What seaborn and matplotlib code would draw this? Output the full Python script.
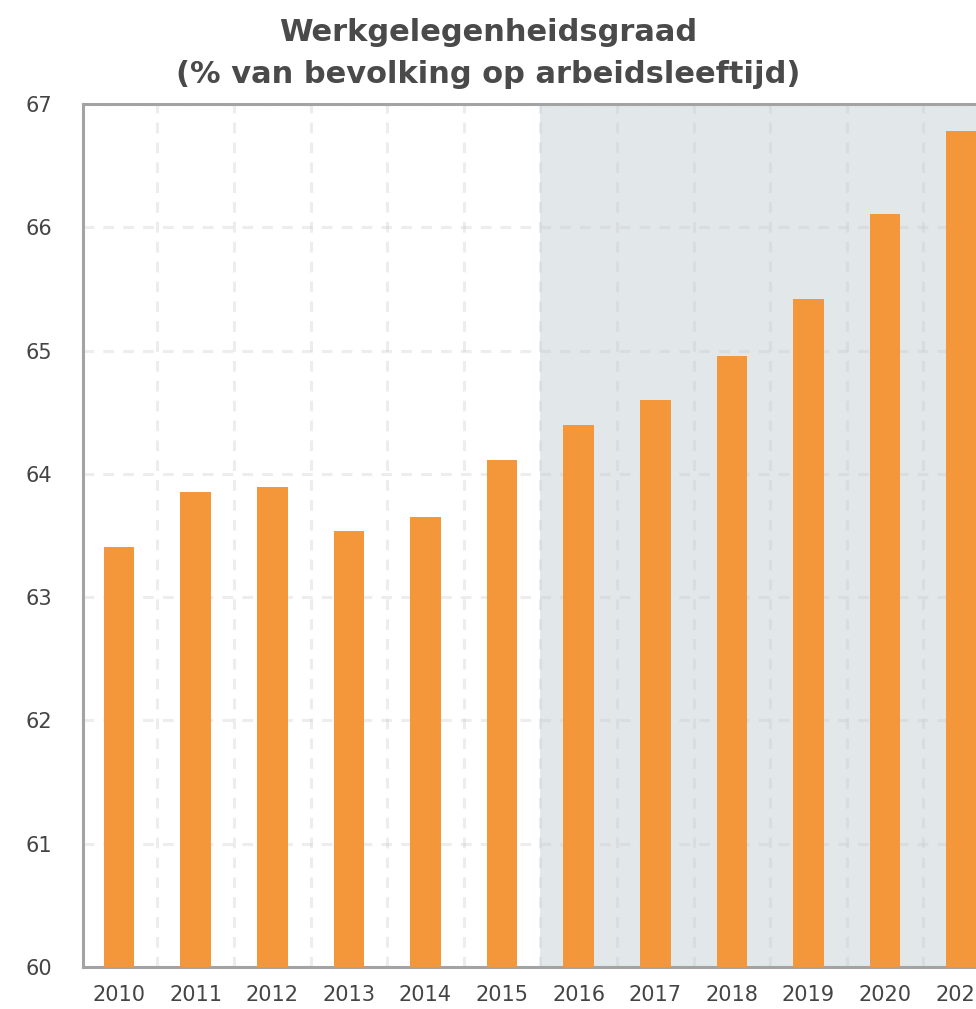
import numpy as np
import pandas as pd
import matplotlib
matplotlib.use("Agg")
import matplotlib.pyplot as plt
import seaborn as sns

years = ["2010", "2011", "2012", "2013", "2014", "2015",
         "2016", "2017", "2018", "2019", "2020", "2021"]
rate = [63.41, 63.85, 63.89, 63.54, 63.65, 64.11,
        64.40, 64.60, 64.96, 65.42, 66.11, 66.78]
forecast_from = 5.5  # shaded part starts between 2015 and 2016

df = pd.DataFrame({"year": years, "rate": rate})

sns.set_style("white")
plt.rcParams["font.family"] = ["DejaVu Sans"]

fig = plt.figure(figsize=(9.76, 10.09), dpi=100)
# axes is wider than the figure on purpose: the right side is cut off
ax = fig.add_axes([83 / 976, 42 / 1009, 917 / 976, 863 / 1009])

ax.axvspan(forecast_from, 12, color="#E2E7EA", zorder=0, lw=0)
sns.barplot(data=df, x="year", y="rate", color="#F4963A", saturation=1,
            width=0.4, ax=ax, zorder=3, linewidth=0)

ax.set_ylim(60, 67)
ax.set_xlim(-0.47, 11.5)
ax.set_yticks(range(60, 68))
ax.set_xticks(np.arange(len(years)))
ax.set_xticklabels(years)
ax.set_xticks(np.arange(len(years)) + 0.5, minor=True)

# grid sits above the shaded span (zorder 0) but below the bars
grid_kw = dict(color="#CCCCCC", alpha=0.35, ls=(0, (3.5, 3)), lw=2.2)
ax.grid(False)
ax.grid(True, which="minor", axis="x", **grid_kw)
ax.grid(True, which="major", axis="y", **grid_kw)
ax.set_axisbelow(True)

for s in ["left", "bottom", "top"]:
    ax.spines[s].set_color("#A3A3A3")
    ax.spines[s].set_linewidth(2.2)
ax.spines["right"].set_visible(False)

ax.tick_params(axis="x", which="major", length=0, pad=13, labelsize=15, labelcolor="#444444")
ax.tick_params(axis="x", which="minor", length=5, width=2, color="#A3A3A3")
ax.tick_params(axis="y", length=5, width=2, color="#A3A3A3", pad=17, labelsize=15, labelcolor="#444444")
ax.set_xlabel("")
ax.set_ylabel("")

fig.text(0.5, 0.968, "Werkgelegenheidsgraad", ha="center", va="center",
         fontsize=22, fontweight="bold", color="#4A4A4A")
fig.text(0.5, 0.926, "(% van bevolking op arbeidsleeftijd)", ha="center", va="center",
         fontsize=22, fontweight="bold", color="#4A4A4A")

fig.savefig("out.png", dpi=100)
